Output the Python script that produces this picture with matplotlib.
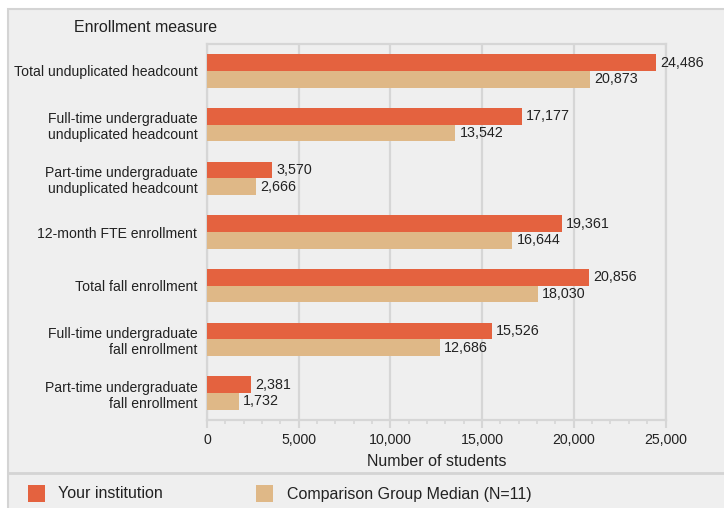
import matplotlib
matplotlib.use("Agg")
import matplotlib.pyplot as plt
from matplotlib.patches import Rectangle
from matplotlib.lines import Line2D
from matplotlib.ticker import MultipleLocator, FuncFormatter

# ===== data =====
categories = [
    "Total unduplicated headcount",
    "Full-time undergraduate\nunduplicated headcount",
    "Part-time undergraduate\nunduplicated headcount",
    "12-month FTE enrollment",
    "Total fall enrollment",
    "Full-time undergraduate\nfall enrollment",
    "Part-time undergraduate\nfall enrollment",
]
institution = [24486, 17177, 3570, 19361, 20856, 15526, 2381]
comparison = [20873, 13542, 2666, 16644, 18030, 12686, 1732]
series_names = ["Your institution", "Comparison Group Median (N=11)"]

# ===== style =====
ORANGE = "#e4623f"
TAN = "#dfb887"
PANEL = "#efefef"
EDGE = "#d4d4d4"
GRID = "#d6d6d6"
FONT = "Liberation Sans"

plt.rcParams["font.family"] = [FONT, "DejaVu Sans"]
plt.rcParams["font.size"] = 10

W, H = 724, 508
fig = plt.figure(figsize=(W / 100, H / 100), dpi=100)
fig.patch.set_facecolor("white")


def px(x, y):
    return x / W, 1 - y / H


# gray panel with border (right and bottom run off the image)
fig.add_artist(Rectangle(px(8, 515), (W - 8 + 5) / W, (515 - 9) / H,
                         transform=fig.transFigure, facecolor=PANEL,
                         edgecolor=EDGE, linewidth=1.5, zorder=0))
# separator above legend
fig.add_artist(Line2D([8 / W, 1], [1 - 473 / H] * 2, transform=fig.transFigure,
                      color=EDGE, linewidth=2, zorder=1))

left, right, top, bottom = 207, 665.5, 44, 420
ax = fig.add_axes([left / W, 1 - bottom / H, (right - left) / W, (bottom - top) / H])
ax.set_facecolor(PANEL)

bh = 0.31
ys = list(range(len(categories)))
ax.barh([y - bh / 2 for y in ys], institution, height=bh, color=ORANGE, zorder=3)
ax.barh([y + bh / 2 for y in ys], comparison, height=bh, color=TAN, zorder=3)

for y, v in zip(ys, institution):
    ax.annotate(f"{v:,}", (v, y - bh / 2), xytext=(3, 0), textcoords="offset points",
                va="center", ha="left", fontsize=10.3, color="#222222")
for y, v in zip(ys, comparison):
    ax.annotate(f"{v:,}", (v, y + bh / 2), xytext=(3, 0), textcoords="offset points",
                va="center", ha="left", fontsize=10.3, color="#222222")

ax.set_xlim(0, 25000)
ax.set_ylim(6.5, -0.5)
ax.set_yticks(ys)
ax.set_yticklabels(categories, ha="right", multialignment="right")
ax.tick_params(axis="y", length=0, pad=7, labelsize=10.1, labelcolor="#222222")

ax.xaxis.set_major_locator(MultipleLocator(5000))
ax.xaxis.set_minor_locator(MultipleLocator(1000))
ax.xaxis.set_major_formatter(FuncFormatter(lambda v, p: f"{int(v):,}"))
ax.tick_params(axis="x", which="major", length=5.5, width=1.5, color=GRID,
               pad=4, labelsize=10.2, labelcolor="#222222")
ax.tick_params(axis="x", which="minor", length=3, width=1.2, color=GRID)
ax.grid(axis="x", which="major", color=GRID, linewidth=1.6, zorder=0)
for s in ax.spines.values():
    s.set_color(GRID)
    s.set_linewidth(1.6)
ax.set_xlabel("Number of students", fontsize=11.5, color="#222222", labelpad=5)

fig.text(74 / W, 1 - 28 / H, "Enrollment measure", fontsize=11.5,
         va="center", ha="left", color="#222222")

# legend
for (sx, tx), color, name in zip([(28, 58), (256, 287)], [ORANGE, TAN], series_names):
    fig.add_artist(Rectangle(px(sx, 502), 17 / W, 17 / H, transform=fig.transFigure,
                             facecolor=color, edgecolor="none", zorder=2))
    fig.text(tx / W, 1 - 494 / H, name, fontsize=11.5, va="center", ha="left",
             color="#222222")

fig.savefig("out.png", dpi=100, facecolor=fig.get_facecolor())
